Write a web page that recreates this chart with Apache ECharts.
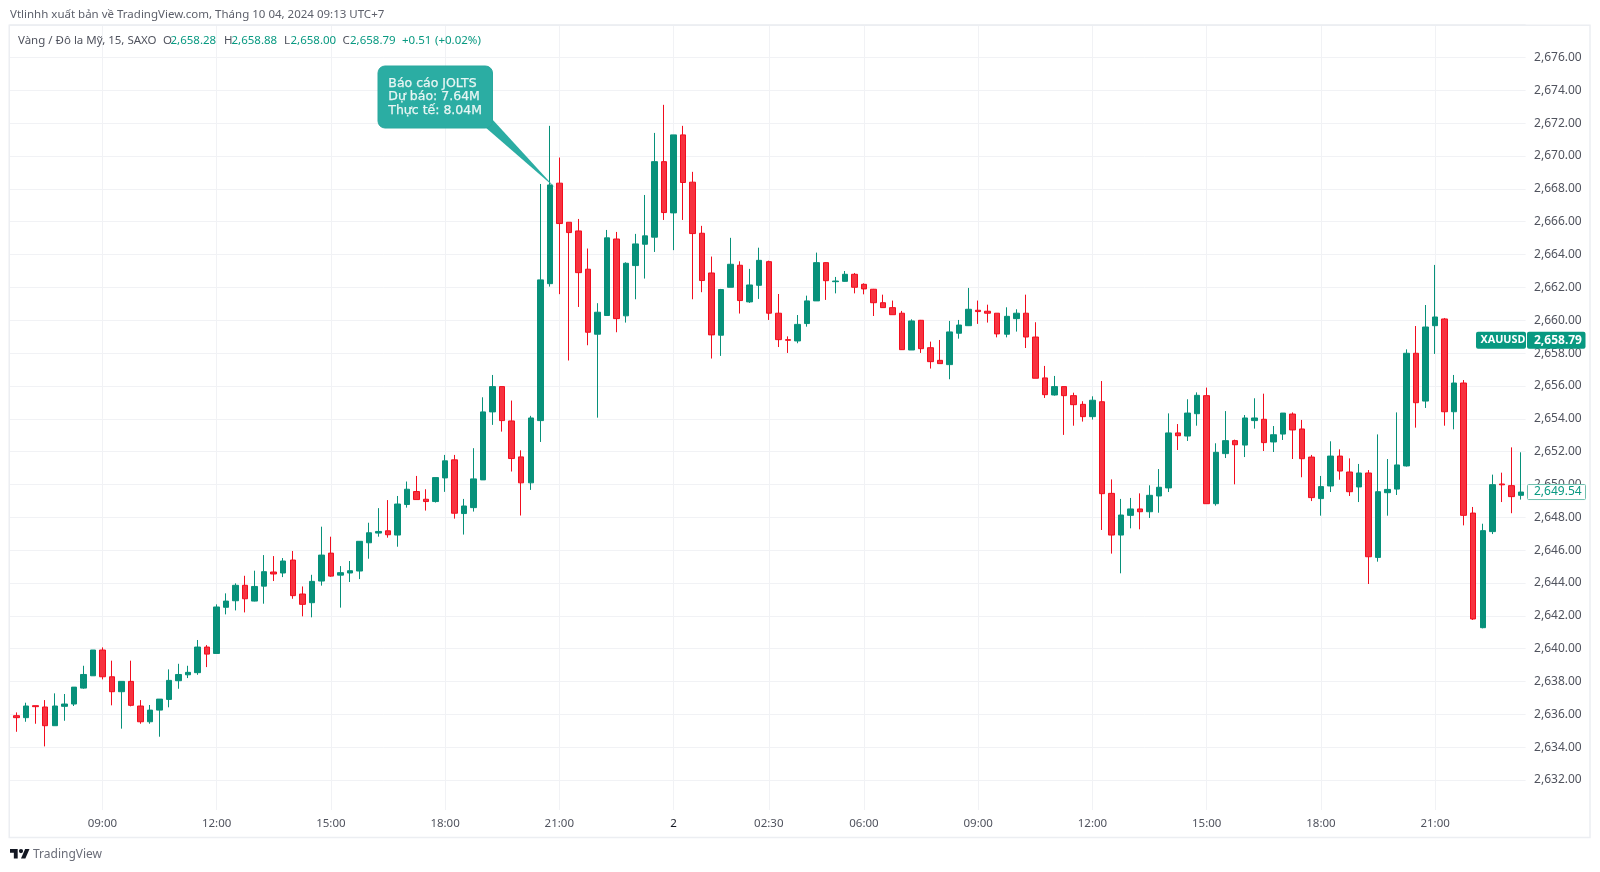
<!DOCTYPE html>
<html><head><meta charset="utf-8">
<style>html,body{margin:0;padding:0;background:#fff}#c{width:1600px;height:872px}</style>
<script src="https://cdn.jsdelivr.net/npm/echarts@6/dist/echarts.min.js"></script>
</head><body><div id="c"></div>
<script>
const opens=[2635.29,2635.92,2635.80,2636.53,2636.45,2635.31,2636.49,2636.63,2637.60,2638.35,
2639.92,2638.29,2637.38,2638.01,2636.51,2635.55,2636.26,2636.91,2638.05,2638.41,
2638.54,2640.10,2639.71,2642.52,2642.92,2643.86,2642.90,2643.81,2644.67,2644.61,
2645.40,2643.33,2642.80,2644.12,2645.82,2644.48,2644.61,2644.73,2646.45,2647.04,
2647.18,2646.92,2648.78,2649.57,2649.10,2648.96,2650.40,2651.50,2648.23,2648.59,
2650.28,2654.42,2655.96,2653.87,2651.68,2650.10,2653.89,2662.23,2668.35,2665.97,
2665.44,2663.11,2659.15,2660.29,2664.95,2660.27,2663.33,2664.63,2665.06,2669.66,
2666.54,2671.29,2668.41,2665.30,2662.88,2659.09,2662.01,2663.35,2661.12,2662.13,
2663.57,2660.43,2658.82,2658.74,2659.80,2661.18,2663.51,2662.35,2662.37,2662.80,
2662.19,2661.89,2661.07,2660.77,2660.43,2658.19,2660.00,2658.33,2657.56,2657.30,
2659.21,2659.67,2660.61,2660.55,2660.43,2659.15,2660.10,2660.43,2658.98,2656.49,
2655.45,2655.96,2655.41,2654.88,2654.13,2655.04,2649.46,2646.92,2648.12,2648.51,
2648.34,2649.30,2649.79,2653.14,2652.95,2654.31,2655.41,2648.83,2651.88,2652.67,
2652.40,2653.89,2653.97,2652.59,2653.07,2654.29,2653.38,2651.67,2649.14,2649.91,
2651.73,2650.76,2649.85,2650.70,2645.56,2649.50,2649.72,2651.13,2657.99,2655.08,
2659.67,2660.08,2654.43,2656.18,2648.26,2641.28,2647.13,2650.03,2649.93,2649.34];
const highs=[2635.92,2636.12,2636.71,2636.53,2636.87,2637.28,2637.24,2637.66,2638.96,2639.92,
2640.08,2639.27,2638.01,2639.27,2636.87,2636.57,2636.93,2638.74,2639.08,2638.96,
2640.53,2640.22,2642.70,2643.37,2643.98,2644.44,2644.75,2645.70,2645.64,2645.52,
2645.95,2643.79,2644.50,2647.43,2646.82,2645.03,2645.34,2646.54,2647.67,2648.56,
2649.05,2649.30,2650.18,2650.52,2649.71,2650.42,2651.80,2651.80,2649.12,2652.21,
2655.31,2656.67,2655.96,2655.11,2652.08,2654.18,2668.30,2671.84,2669.91,2665.97,
2666.17,2664.37,2661.04,2665.50,2665.38,2663.53,2665.26,2667.63,2671.41,2673.12,
2671.29,2671.84,2669.04,2665.75,2663.88,2661.91,2665.02,2663.59,2663.13,2664.42,
2663.63,2661.60,2659.02,2660.32,2661.50,2664.12,2663.53,2662.64,2663.00,2662.88,
2662.25,2661.91,2661.56,2661.20,2660.57,2660.06,2660.02,2658.70,2658.80,2659.96,
2660.02,2661.97,2661.20,2660.95,2660.43,2660.79,2660.67,2661.56,2659.88,2657.22,
2656.61,2655.96,2655.59,2655.07,2655.37,2656.30,2650.31,2649.12,2649.18,2649.46,
2649.95,2650.94,2654.33,2653.68,2655.19,2655.61,2655.90,2652.51,2654.47,2652.73,
2654.23,2655.25,2655.53,2653.56,2654.35,2654.39,2653.93,2651.80,2650.52,2652.63,
2652.14,2651.59,2651.25,2650.88,2653.05,2651.55,2654.39,2658.23,2659.65,2660.93,
2663.37,2660.14,2656.67,2656.36,2648.63,2647.61,2650.60,2650.72,2652.26,2651.96];
const lows=[2635.29,2634.94,2635.55,2635.43,2634.05,2635.31,2635.61,2636.51,2637.56,2638.35,
2638.13,2636.55,2635.13,2636.49,2635.43,2635.43,2634.64,2636.43,2637.56,2638.21,
2638.41,2638.88,2639.71,2642.09,2642.33,2642.21,2642.88,2642.74,2644.12,2644.36,
2643.04,2641.97,2641.91,2643.84,2644.38,2642.50,2644.06,2644.24,2645.48,2646.82,
2646.76,2646.21,2648.59,2649.08,2648.41,2648.90,2649.55,2647.92,2646.95,2648.35,
2650.28,2653.63,2653.22,2650.79,2648.11,2649.67,2652.59,2662.05,2661.59,2657.55,
2660.81,2658.48,2654.07,2660.29,2659.27,2659.86,2661.28,2662.54,2664.16,2666.11,
2664.27,2666.11,2661.28,2661.71,2657.67,2657.83,2662.01,2660.41,2661.06,2661.30,
2660.02,2658.37,2658.01,2658.60,2659.61,2661.18,2661.24,2661.64,2662.35,2661.64,
2661.58,2660.26,2660.75,2660.34,2658.19,2658.19,2658.01,2657.06,2657.36,2656.41,
2658.88,2659.65,2659.78,2659.86,2658.96,2658.96,2659.31,2658.31,2656.47,2655.27,
2655.41,2653.02,2653.58,2653.83,2653.95,2647.23,2645.79,2644.59,2647.33,2647.27,
2647.96,2648.28,2649.54,2652.10,2652.65,2653.58,2648.83,2648.71,2651.61,2650.01,
2651.67,2653.40,2652.04,2651.98,2652.71,2651.55,2650.44,2648.99,2648.10,2649.54,
2650.29,2649.30,2648.93,2643.94,2645.30,2648.10,2649.36,2651.09,2653.46,2654.66,
2657.95,2653.58,2653.36,2647.51,2641.75,2641.24,2646.98,2648.93,2648.25,2649.08];
const closes=[2635.92,2635.80,2636.51,2636.47,2635.31,2636.51,2636.63,2637.66,2638.43,2639.92,
2638.29,2637.38,2638.01,2636.55,2635.55,2636.26,2636.93,2638.07,2638.43,2638.56,
2640.10,2639.67,2642.54,2642.90,2643.86,2643.04,2643.79,2644.69,2644.55,2645.34,
2643.23,2642.70,2644.10,2645.70,2644.42,2644.63,2644.75,2646.54,2647.06,2647.14,
2646.94,2648.81,2649.71,2649.08,2648.96,2650.42,2651.44,2648.25,2648.69,2650.34,
2654.42,2655.96,2653.89,2651.58,2650.10,2654.05,2662.46,2668.24,2665.89,2665.34,
2662.90,2659.27,2660.49,2665.02,2660.10,2663.47,2664.65,2665.14,2669.66,2666.56,
2671.29,2668.39,2665.28,2662.42,2659.11,2661.87,2663.41,2661.20,2662.15,2663.65,
2660.43,2658.82,2658.78,2659.75,2661.18,2663.51,2662.41,2662.39,2662.80,2662.01,
2661.91,2661.07,2660.77,2660.34,2658.21,2659.96,2658.27,2657.48,2657.36,2659.29,
2659.71,2660.67,2660.53,2660.43,2659.17,2660.24,2660.43,2658.98,2656.47,2655.47,
2655.96,2655.41,2654.86,2654.13,2655.13,2649.44,2646.92,2648.14,2648.51,2648.34,
2649.34,2649.83,2653.14,2652.97,2654.35,2655.43,2648.83,2651.96,2652.67,2652.42,
2654.05,2654.05,2652.55,2653.03,2654.35,2653.32,2651.57,2649.20,2649.87,2651.73,
2650.82,2649.56,2650.70,2645.60,2649.56,2649.70,2651.19,2657.99,2654.98,2659.59,
2660.20,2654.43,2656.18,2648.12,2641.81,2647.19,2649.99,2649.98,2649.26,2649.54];
const tickIndexes=[10,22,34,46,58,70,80,90,102,114,126,138,150];
const tickLabels=['09:00','12:00','15:00','18:00','21:00','2','02:30','06:00','09:00','12:00','15:00','18:00','21:00'];
const categories=opens.map((_,i)=>{const k=tickIndexes.indexOf(i);return k>=0?tickLabels[k]:'c'+i;});
const candles=opens.map((o,i)=>[o,closes[i],lows[i],highs[i]]);
const UP='#089981',BODY='#07917a',DOWN='#f7323f',DOWNB='#f20d1e',TXT='#50535e';
const lastPrice=2658.79,livePrice=2649.54;
const FF='"Noto Sans",sans-serif';
const chart=echarts.init(document.getElementById('c'),null,{renderer:'canvas'});
const fmt=v=>v.toLocaleString('en-US',{minimumFractionDigits:2,maximumFractionDigits:2});
chart.setOption({
 animation:false,backgroundColor:'#fff',
 grid:{left:2.4,top:24.7,width:1523.2,height:788.2},
 xAxis:{type:'category',data:categories,boundaryGap:true,
  axisLine:{show:false},axisTick:{show:false},
  axisLabel:{interval:i=>tickIndexes.includes(i),margin:5,hideOverlap:false,
   color:TXT,fontFamily:FF,fontSize:11.5,
   formatter:v=>v==='2'?'{b|2}':v,rich:{b:{color:'#131722',fontFamily:FF,fontSize:11.5}}},
  splitLine:{show:true,alignWithLabel:true,interval:i=>tickIndexes.includes(i),lineStyle:{color:'#f1f2f5',width:1}}},
 yAxis:{type:'value',position:'right',min:2630,max:2678,interval:2,scale:true,
  axisLine:{show:false},axisTick:{show:false},
  axisLabel:{margin:8.5,color:TXT,fontFamily:FF,fontSize:12,showMinLabel:false,showMaxLabel:false,formatter:v=>fmt(v)},
  splitLine:{show:true,lineStyle:{color:'#f1f2f5',width:1}}},
 series:[{type:'candlestick',data:candles,barWidth:6,clip:true,
  itemStyle:{color:BODY,color0:DOWN,borderColor:BODY,borderColor0:DOWNB,borderWidth:1}}]
});
const py=v=>chart.convertToPixel({yAxisIndex:0},v);
const tip=chart.convertToPixel({xAxisIndex:0,yAxisIndex:0},[58,2668.0]);
const T=(text,x,y,fill,size,extra)=>({type:'text',z:60,style:Object.assign({text,x,y,fill,fontSize:size,fontFamily:FF,verticalAlign:'middle'},extra||{})});
const legend=[['Vàng / Đô la Mỹ, 15, SAXO',18,'#50535e'],['O',163,'#50535e'],['2,658.28',170.5,UP],['H',224,'#50535e'],['2,658.88',231.5,UP],['L',284,'#50535e'],['2,658.00',290.5,UP],['C',342.5,'#50535e'],['2,658.79',350,UP],['+0.51',402,UP],['(+0.02%)',435,UP]];
const noteLines=['Báo cáo JOLTS','Dự báo: 7.64M','Thực tế: 8.04M'];
const yLast=py(lastPrice),yLive=py(livePrice);
const LS=19.5/35.5,LY=9.5/18,lx=x=>10+x*LS,ly=y=>849+(y-4)*LY;
const logoParts=[[[14,22],[7,22],[7,11],[0,11],[0,4],[14,4]],[[28,22],[20,22],[27.5,4],[35.5,4]]];
chart.setOption({graphic:{elements:[
 {type:'rect',z:50,shape:{x:0,y:20,width:9.5,height:822},style:{fill:'#fff'}},
 {type:'rect',z:50,shape:{x:9,y:810,width:1518,height:5},style:{fill:'#fff'}},
 {type:'rect',z:51,shape:{x:9.25,y:25.25,width:1580.75,height:812.25},style:{fill:'none',stroke:'#eceef2',lineWidth:1.5}},
 T('Vtlinhh xuất bản về TradingView.com, Tháng 10 04, 2024 09:13 UTC+7',10,14.5,'#5d606b',11.5),
 ...legend.map(l=>T(l[0],l[1],41,l[2],11.5)),
 {type:'polygon',z:55,shape:{points:[[485,127],[492,119],[tip[0]-4,tip[1]-1]]},style:{fill:'#2bada3'}},
 {type:'rect',z:55,shape:{x:378,y:66,width:114.5,height:62,r:7},style:{fill:'#2bada3',stroke:'#2aa89e',lineWidth:1}},
 ...noteLines.map((t,i)=>T(t,388.3,83.3+i*13.9,'#e8f6f4',12.5,{fontFamily:'"DejaVu Sans",sans-serif',stroke:'#e8f6f4',lineWidth:0.25})),
 {type:'rect',z:70,shape:{x:1476,y:yLast-8.5,width:50,height:17,r:2},style:{fill:UP}},
 {type:'rect',z:70,shape:{x:1527,y:yLast-8.5,width:58.5,height:17,r:2},style:{fill:UP}},
 Object.assign(T('XAUUSD',1480.5,yLast,'#fff',10.8,{fontWeight:'bold'}),{z:71}),
 Object.assign(T(fmt(lastPrice),1534,yLast,'#fff',12,{fontWeight:'bold'}),{z:71}),
 {type:'rect',z:70,shape:{x:1527.5,y:yLive-7.5,width:58,height:15,r:1},style:{fill:'#fff',stroke:'#6fbfae',lineWidth:1}},
 Object.assign(T(fmt(livePrice),1534,yLive,UP,12),{z:71}),
 ...logoParts.map(p=>({type:'polygon',z:60,shape:{points:p.map(q=>[lx(q[0]),ly(q[1])])},style:{fill:'#131722'}})),
 {type:'circle',z:60,shape:{cx:lx(20),cy:ly(8),r:2.1},style:{fill:'#131722'}},
 T('TradingView',33,854.5,'#6a6d78',12)
]}});
</script></body></html>
